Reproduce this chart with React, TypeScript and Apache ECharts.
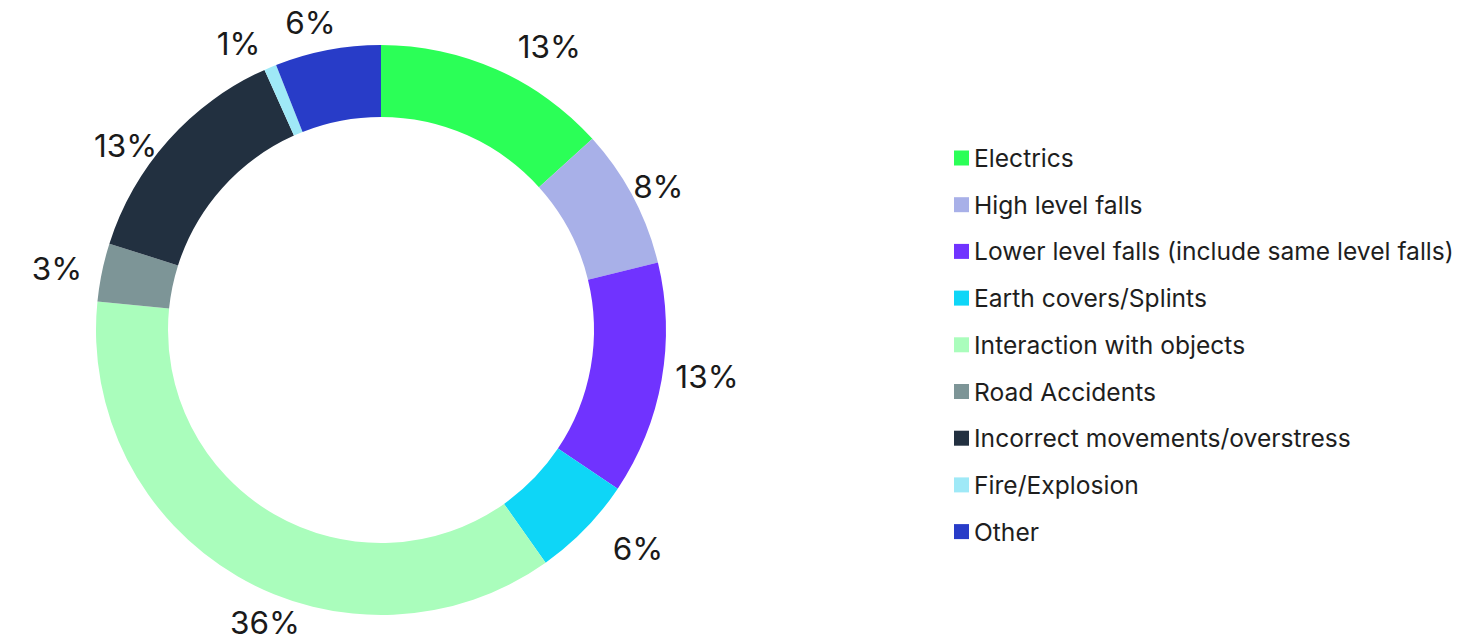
import React, { useEffect, useRef } from "react";
import * as echarts from "echarts";

const categories = [
  "Electrics",
  "High level falls",
  "Lower level falls (include same level falls)",
  "Earth covers/Splints",
  "Interaction with objects",
  "Road Accidents",
  "Incorrect movements/overstress",
  "Fire/Explosion",
  "Other",
];
const shares = [13.3, 7.9, 13.2, 5.8, 36.4, 3.3, 13.4, 0.7, 6.0];
const colors = [
  "#2BFF57",
  "#A8B0E8",
  "#7033FF",
  "#0ED6F7",
  "#AAFDBC",
  "#7D9597",
  "#223040",
  "#9FE9F7",
  "#283CC8",
];

// small label nudges (style only) relative to ECharts' default outside placement
const labelNudges = [
  [5, -9],
  [-23, -3],
  [-11, -6],
  [7, 9],
  [80, 33],
  [5, -1],
  [10, 15],
  [6, -10],
  [21, -13],
];

const FONT = "Inter, 'Noto Sans', sans-serif";

export default function App() {
  const ref = useRef<HTMLDivElement>(null);
  useEffect(() => {
    if (!ref.current) return;
    const chart = echarts.init(ref.current, undefined, { renderer: "svg" });
    chart.setOption({
      animation: false,
      backgroundColor: "#ffffff",
      color: colors,
      legend: {
        orient: "vertical",
        left: 954,
        top: 145,
        padding: 0,
        icon: "rect",
        itemWidth: 15,
        itemHeight: 15,
        itemGap: 20.7,
        textStyle: {
          fontFamily: FONT,
          fontSize: 24.6,
          lineHeight: 26,
          color: "#1e1e1e",
        },
        data: categories,
      },
      series: [
        {
          type: "pie",
          center: [381, 330],
          radius: [213, 285],
          startAngle: 90,
          clockwise: true,
          avoidLabelOverlap: false,
          label: {
            show: true,
            position: "outside",
            fontFamily: FONT,
            fontSize: 31.5,
            color: "#1a1a1a",
            distanceToLabelLine: 5,
            formatter: (p: any) => `${Math.round(p.percent)}%`,
          },
          labelLine: { show: false, length: 15, length2: 5 },
          labelLayout: (p: any) => {
            const n = labelNudges[p.dataIndex] || [0, 0];
            return { dx: n[0], dy: n[1] };
          },
          emphasis: { disabled: true },
          data: categories.map((name, i) => ({ name, value: shares[i] })),
        },
      ],
    });
    return () => chart.dispose();
  }, []);
  return (
    <div
      ref={ref}
      style={{ position: "fixed", left: 0, top: 0, width: 1463, height: 642 }}
    />
  );
}
